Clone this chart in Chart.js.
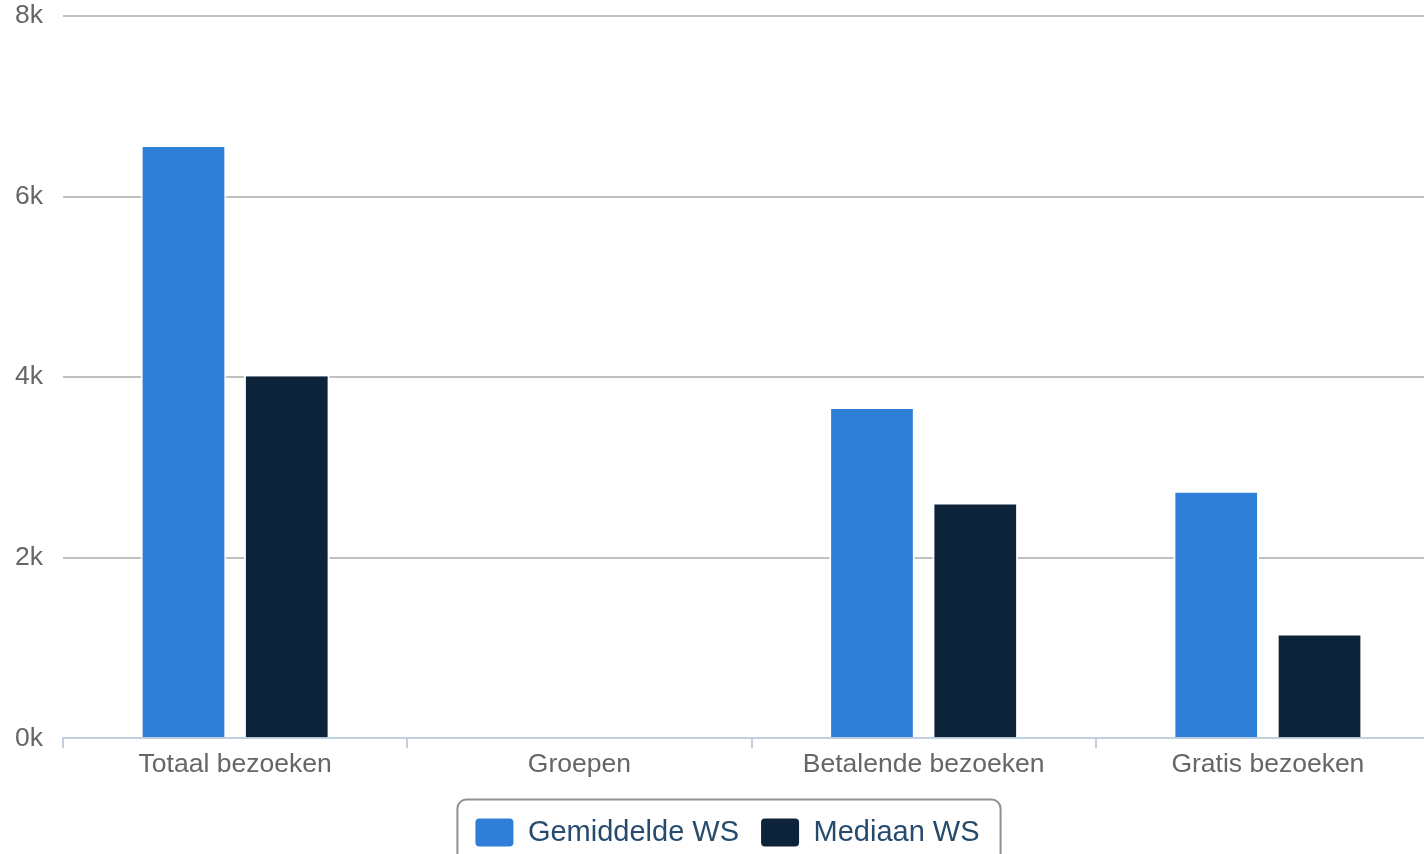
<!DOCTYPE html>
<html>
<head>
<meta charset="utf-8">
<script src="https://cdn.jsdelivr.net/npm/chart.js@4"></script>
<style>
  html, body { margin: 0; padding: 0; background: #fff; overflow: hidden; }
  #wrap { width: 1424px; height: 854px; overflow: hidden; position: relative; }
  #box { width: 1440px; height: 880px; position: absolute; left: 0; top: 0; }
</style>
</head>
<body>
<div id="wrap"><div id="box"><canvas id="visitsChart"></canvas></div></div>
<script>
const categories = ['Totaal bezoeken', 'Groepen', 'Betalende bezoeken', 'Gratis bezoeken'];
const gemiddeldeWS = [6570, 0, 3670, 2740];
const mediaanWS = [4030, 0, 2610, 1160];
const yTicks = [0, 2000, 4000, 6000, 8000];

const fontFamily = '"Liberation Sans", Arial, Helvetica, sans-serif';

// rounded frame round the legend, like the old Highcharts legend
const legendFrame = {
    id: 'legendFrame',
    afterDraw(chart) {
        const boxes = chart.legend.legendHitBoxes;
        if (!boxes || !boxes.length) return;
        const left = Math.min(...boxes.map(b => b.left)) - 18;
        const right = Math.max(...boxes.map(b => b.left + b.width)) + 21;
        const mid = boxes[0].top + boxes[0].height / 2;
        const top = mid - 33;
        const bottom = mid + 33;
        const ctx = chart.ctx;
        ctx.save();
        ctx.strokeStyle = '#909090';
        ctx.lineWidth = 2;
        ctx.beginPath();
        ctx.roundRect(left, top, right - left, bottom - top, 9);
        ctx.stroke();
        ctx.restore();
    }
};

const ctx = document.getElementById('visitsChart').getContext('2d');
new Chart(ctx, {
    type: 'bar',
    data: {
        labels: categories,
        datasets: [
            {
                label: 'Gemiddelde WS',
                data: gemiddeldeWS,
                backgroundColor: '#2f7ed8',
                borderColor: '#ffffff',
                borderWidth: 2
            },
            {
                label: 'Mediaan WS',
                data: mediaanWS,
                backgroundColor: '#0d233a',
                borderColor: '#ffffff',
                borderWidth: 2
            }
        ]
    },
    options: {
        responsive: true,
        maintainAspectRatio: false,
        animation: false,
        layout: { padding: { top: 16, left: 15, right: 0, bottom: 23 } },
        datasets: {
            bar: { categoryPercentage: 0.6, barPercentage: 0.83 }
        },
        scales: {
            x: {
                grid: {
                    drawOnChartArea: false,
                    drawTicks: true,
                    tickLength: 10,
                    color: '#c0d0e0',
                    lineWidth: 2
                },
                border: { color: '#c0d0e0', width: 2 },
                ticks: {
                    color: '#666666',
                    padding: 1,
                    font: { family: fontFamily, size: 26.5 }
                },
                afterFit: axis => { axis.height += 14; }
            },
            y: {
                min: 0,
                max: 8000,
                afterBuildTicks: axis => { axis.ticks = yTicks.map(v => ({ value: v })); },
                afterFit: axis => {
                    axis.width = 48;
                    axis.paddingTop = 0;
                    axis.paddingBottom = 0;
                },
                grid: {
                    drawTicks: false,
                    color: c => c.tick && c.tick.value === 0 ? 'rgba(0,0,0,0)' : '#c0c0c0',
                    lineWidth: 2
                },
                border: { display: false },
                ticks: {
                    color: '#666666',
                    padding: 21,
                    crossAlign: 'far',
                    font: { family: fontFamily, size: 26.5 },
                    callback: v => (v / 1000) + 'k'
                }
            }
        },
        plugins: {
            tooltip: { enabled: false },
            legend: {
                position: 'bottom',
                labels: {
                    color: '#274b6d',
                    boxWidth: 38,
                    boxHeight: 28,
                    padding: 22,
                    useBorderRadius: true,
                    borderRadius: 4,
                    font: { family: fontFamily, size: 29 },
                    generateLabels: chart => chart.data.datasets.map((ds, i) => ({
                        text: ds.label,
                        fillStyle: ds.backgroundColor,
                        strokeStyle: ds.backgroundColor,
                        lineWidth: 0,
                        fontColor: '#274b6d',
                        borderRadius: 4,
                        datasetIndex: i
                    }))
                }
            }
        }
    },
    plugins: [legendFrame]
});
</script>
</body>
</html>
